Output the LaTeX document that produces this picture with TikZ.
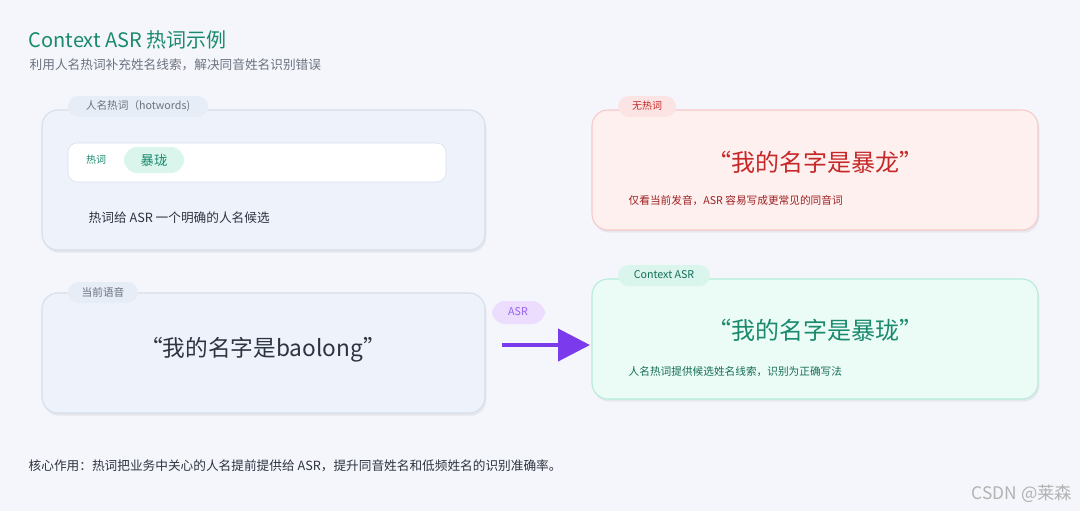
\documentclass[tikz,border=0pt]{standalone}
\usepackage{fontspec}
\setmainfont{Noto Sans CJK SC}
\usetikzlibrary{shadows,arrows.meta}
\definecolor{bg}{HTML}{F4F6FB}
\definecolor{teal}{HTML}{1A8A6E}
\definecolor{gtxt}{HTML}{6B7280}
\definecolor{dtxt}{HTML}{2D3340}
\definecolor{bluebox}{HTML}{EEF3FB}
\definecolor{blueline}{HTML}{D6DEEA}
\definecolor{redbox}{HTML}{FFF0F0}
\definecolor{redline}{HTML}{F7C9C9}
\definecolor{redtab}{HTML}{FDE4E4}
\definecolor{redtxt}{HTML}{C62828}
\definecolor{greenbox}{HTML}{EBFBF5}
\definecolor{greenline}{HTML}{B5ECD9}
\definecolor{greentab}{HTML}{D9F5EC}
\definecolor{purp}{HTML}{7C3AED}
\definecolor{purptab}{HTML}{ECDCFD}
\begin{document}
\begin{tikzpicture}[x=0.75pt,y=-0.75pt,
  card/.style={draw=#1,line width=0.8pt,rounded corners=12pt,drop shadow={opacity=0.12,shadow xshift=1pt,shadow yshift=-2pt}},
  tab/.style={fill=#1,rounded corners=8pt,inner sep=0pt},
  fs/.style={font=\fontsize{#1}{#1}\selectfont}]
\useasboundingbox[fill=bg] (0,0) rectangle (1080,511);
\node[anchor=west,text=teal,fs=15] (title) at (24,40) {Context ASR 热词示例};
\node[anchor=west,text=gtxt,fs=9.5] (sub) at (25,65) {利用人名热词补充姓名线索，解决同音姓名识别错误};
% box 1
\draw[card=blueline,fill=bluebox] (42,110) rectangle (485,250);
\fill[bluebox!70!blueline,rounded corners=8pt] (68,96) rectangle (208,117);
\node[text=gtxt,fs=8] (t1) at (138,106) {人名热词（hotwords)};
\draw[draw=blueline,fill=white,rounded corners=7pt] (68,143) rectangle (446,182);
\node[text=teal,fs=7.5] (hw) at (96,160) {热词};
\fill[greentab,rounded corners=10pt] (124,147) rectangle (184,173);
\node[text=teal,fs=10] (bl) at (154,160) {暴珑};
\node[anchor=west,text=dtxt,fs=9.5] (d1) at (84,218) {热词给 ASR 一个明确的人名候选};
% box 2
\draw[card=blueline,fill=bluebox] (42,293) rectangle (485,413);
\fill[bluebox!70!blueline,rounded corners=8pt] (68,282) rectangle (138,303);
\node[text=gtxt,fs=8] (t2) at (103,292) {当前语音};
\node[text=dtxt,fs=17] (speech) at (263,350) {“我的名字是baolong”};
% ASR arrow
\fill[purptab,rounded corners=10pt] (492,301) rectangle (545,324);
\node[text=purp!80,fs=8] (asr) at (518,312) {ASR};
\coordinate (as) at (502,345);
\coordinate (ae) at (590,345);
\draw[purp,line width=3pt,-{Triangle[length=24pt,width=24pt]}] (as) -- (ae);
% box 3 red
\draw[card=redline,fill=redbox] (592,110) rectangle (1038,230);
\fill[redtab,rounded corners=8pt] (618,96) rectangle (676,117);
\node[text=redtxt,fs=7.5] (t3) at (647,106) {无热词};
\node[text=redtxt,fs=18] (r1) at (815,162) {“我的名字是暴龙”};
\node[anchor=west,text=redtxt!80!black,fs=8] (r2) at (624,201) {仅看当前发音，ASR 容易写成更常见的同音词};
% box 4 green
\draw[card=greenline,fill=greenbox] (592,279) rectangle (1038,399);
\fill[greentab,rounded corners=8pt] (618,265) rectangle (710,286);
\node[text=teal!80!black,fs=8] (t4) at (664,275) {Context ASR};
\node[text=teal,fs=18] (g1) at (815,330) {“我的名字是暴珑”};
\node[anchor=west,text=teal!80!black,fs=8] (g2) at (624,372) {人名热词提供候选姓名线索，识别为正确写法};
% bottom
\node[anchor=west,text=dtxt,fs=9.5] (bt) at (24,466) {核心作用：热词把业务中关心的人名提前提供给 ASR，提升同音姓名和低频姓名的识别准确率。};
\node[anchor=east,text=gray!60,fs=13] (wm) at (1077,494) {CSDN @莱森};
\end{tikzpicture}
\end{document}
